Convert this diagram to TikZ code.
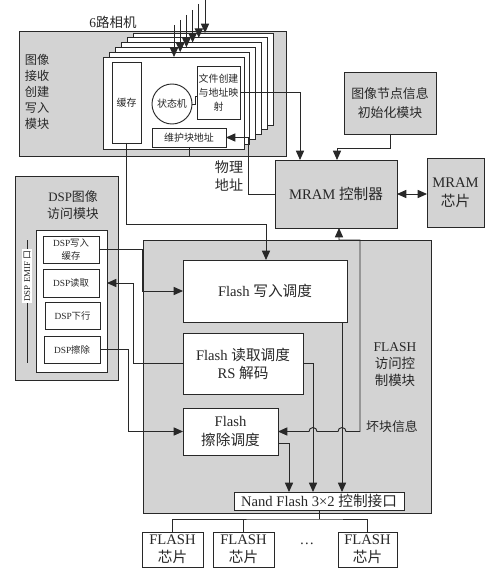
\documentclass[tikz,border=0pt]{standalone}
\usepackage{fontspec}
\setmainfont{Liberation Serif}
\newfontfamily\cjk{Noto Sans CJK SC}
\usetikzlibrary{arrows.meta,calc}
\definecolor{gbg}{RGB}{211,211,211}
\definecolor{lc}{RGB}{40,40,40}
\newcommand\zh[1]{{\cjk #1}}
\newcommand\bx[7]{%
 \pgfmathsetmacro\bxw{(#4-#2)*0.03}%
 \pgfmathsetmacro\bxh{(#5-#3)*0.03}%
 \node[#6, minimum width=\bxw cm, minimum height=\bxh cm] (#1) at ({(#2+#4)/2},{(#3+#5)/2}) {#7};}
\begin{document}
\begin{tikzpicture}[x=0.03cm,y=-0.03cm, line join=miter,
 box/.style={draw=lc, line width=0.8pt, inner sep=0pt, outer sep=0pt, align=center, text=lc, font=\fontsize{12.5}{15.5}\selectfont},
 gbox/.style={box, fill=gbg},
 wbox/.style={box, fill=white},
 mid/.style={font=\fontsize{11}{14}\selectfont},
 small/.style={font=\fontsize{8.5}{12}\selectfont},
 xs/.style={font=\fontsize{8}{11}\selectfont},
 ln/.style={draw=lc, line width=0.8pt},
 arr/.style={ln, -{Triangle[length=8pt,width=7pt]}},
 darr/.style={ln, {Triangle[length=8pt,width=7pt]}-{Triangle[length=8pt,width=7pt]}},
 lbl/.style={text=lc, align=center, inner sep=0pt, font=\fontsize{12.5}{15.5}\selectfont}]
\useasboundingbox (0,0) rectangle (500,568);

% camera module
\bx{cam}{19}{31}{286}{156}{gbox}{}
\node[lbl, font=\fontsize{10.4}{13.5}\selectfont] (camlbl) at (37,92) {\zh{图像}\\\zh{接收}\\\zh{创建}\\\zh{写入}\\\zh{模块}};
\node[lbl, font=\fontsize{11.5}{13}\selectfont] (camname) at (113,22) {6\zh{路相机}};
\foreach \i in {5,4,3,2,1,0}{
  \bx{f\i}{(103+6*\i)}{(57-4.8*\i)}{(244+5.8*\i)}{(149-4.8*\i)}{wbox}{}
}
\foreach \i/\ys in {0/25,1/20,2/15,3/10,4/4,5/0}{
  \coordinate (cs\i) at ({174+6.2*\i},\ys);
  \draw[arr] (cs\i) -- (cs\i |- f\i.north);
}
\bx{hc}{112}{62}{141}{143}{wbox,small}{\zh{缓存}}
\node[wbox, small, circle, minimum size=1.2cm] (sm) at (172,104) {\zh{状态机}};
\bx{wj}{197}{66}{240}{119}{wbox,small}{\zh{文件创建}\\\zh{与地址映}\\\zh{射}}
\bx{whk}{152}{128}{226}{147}{wbox,small}{\zh{维护块地址}}
\coordinate (smk) at (195,96);
\draw[ln] (sm.east) -| (smk) -- (smk -| wj.west);
\node[lbl, font=\fontsize{12}{15.5}\selectfont] (wl) at (229,176) {\zh{物理}\\\zh{地址}};

% MRAM
\bx{mram}{275}{160}{397}{228}{gbox}{MRAM \zh{控制器}}
\bx{info}{344}{72}{436}{134}{gbox,font=\fontsize{11}{16}\selectfont}{\zh{图像节点信息}\\\zh{初始化模块}}
\bx{mchip}{427}{158}{484}{227}{gbox,font=\fontsize{12.5}{16}\selectfont}{MRAM\\\zh{芯片}}

% FLASH module
\bx{fm}{143}{240}{431}{513}{gbox}{}
\bx{fw}{183}{260}{347}{322}{wbox}{Flash \zh{写入调度}}
\bx{fr}{183}{333}{303}{394}{wbox}{Flash \zh{读取调度}\\RS \zh{解码}}
\bx{fe}{183}{408}{278}{455}{wbox}{Flash\\\zh{擦除调度}}
\bx{nand}{234}{492}{404}{510}{wbox}{Nand Flash 3×2 \zh{控制接口}}
\node[lbl, font=\fontsize{11.5}{14.5}\selectfont] (fml) at (395,365) {FLASH\\\zh{访问控}\\\zh{制模块}};
\node[lbl, font=\fontsize{11}{14}\selectfont] (hkl) at (392,427) {\zh{坏块信息}};

% DSP module
\bx{dsp}{15}{176}{118}{380}{gbox}{}
\node[lbl, font=\fontsize{11}{14}\selectfont] (dspl) at (73,205) {DSP\zh{图像}\\\zh{访问模块}};
\bx{din}{36}{230}{107}{372}{wbox}{}
\bx{dw}{43}{236}{99}{263}{wbox,xs}{DSP\zh{写入}\\\zh{缓存}}
\bx{dr}{43}{269}{99}{297}{wbox,xs}{DSP\zh{读取}}
\bx{dd}{45}{302}{100}{329}{wbox,xs}{DSP\zh{下行}}
\bx{de}{44}{336}{100}{363}{wbox,xs}{DSP\zh{擦除}}
\coordinate (emt) at (27,240);
\coordinate (emb) at (27,363);
\draw[ln] (emt) -- (emb);
\node[fill=white, rotate=90, inner sep=1.2pt, text=lc, font=\fontsize{7.6}{9}\selectfont] (eml) at (27,276) {DSP EMIF \zh{口}};

% chips
\bx{c1}{142}{532}{203}{567}{wbox}{FLASH\\\zh{芯片}}
\bx{c2}{213}{532}{274}{567}{wbox}{FLASH\\\zh{芯片}}
\bx{c3}{338}{532}{397}{567}{wbox}{FLASH\\\zh{芯片}}
\node[lbl] (dots) at (307,544) {…};

% connectors
\coordinate (k1) at (300,93);
\draw[arr] (wj.east) -| (k1 |- mram.north);
\coordinate (k2) at (248,137.5);
\draw[arr] (mram.west) -| (k2) -- (whk.east);
\coordinate (k3) at (266,224);
\draw[arr] (hc.south) |- (k3) -- (k3 |- fw.north);
\draw[ln] (whk.south) -- (whk.south |- cam.south);
\coordinate (k10) at (337,148);
\draw[arr] (info.south) |- (k10) -- (k10 |- mram.north);
\draw[darr] (mram.east) -- (mram.east -| mchip.west);

\coordinate (k4) at (142,291);
\draw[arr] (dw.east) -| (k4) -- (fw.west);
\coordinate (k5) at (133,283);
\draw[arr] (fr.west) -| (k5) -- (k5 -| din.east);
\coordinate (k6) at (128,431.5);
\draw[arr] (de.east) -| (k6) -- (fe.west);

\coordinate (k7) at (342,400);
\draw[arr] (fw.south -| k7) -- (k7 |- nand.north);
\coordinate (k8) at (313,363.5);
\draw[arr] (fr.east) -| (k8 |- nand.north);
\coordinate (k9) at (289,443);
\draw[arr] (fe.east |- k9) -| (k9 |- nand.north);

\coordinate (b1) at (339,240);
\coordinate (b2) at (360,240);
\coordinate (b3) at (360,431.5);
\coordinate (h1) at (309,431.5);
\coordinate (h2) at (338,431.5);
\draw[darr] (fe.east) -- (h1) arc[start angle=180, end angle=0, radius=0.12cm] -- (h2) arc[start angle=180, end angle=0, radius=0.12cm] -- (b3) -- (b2) -- (b1) -- (b1 |- mram.south);

\coordinate (bus) at (319,519);
\draw[ln] (nand.south) -- (bus);
\draw[ln] (c1.north) |- (bus) -| (c3.north);
\draw[ln] (c2.north) -- (c2.north |- bus);
\end{tikzpicture}
\end{document}
